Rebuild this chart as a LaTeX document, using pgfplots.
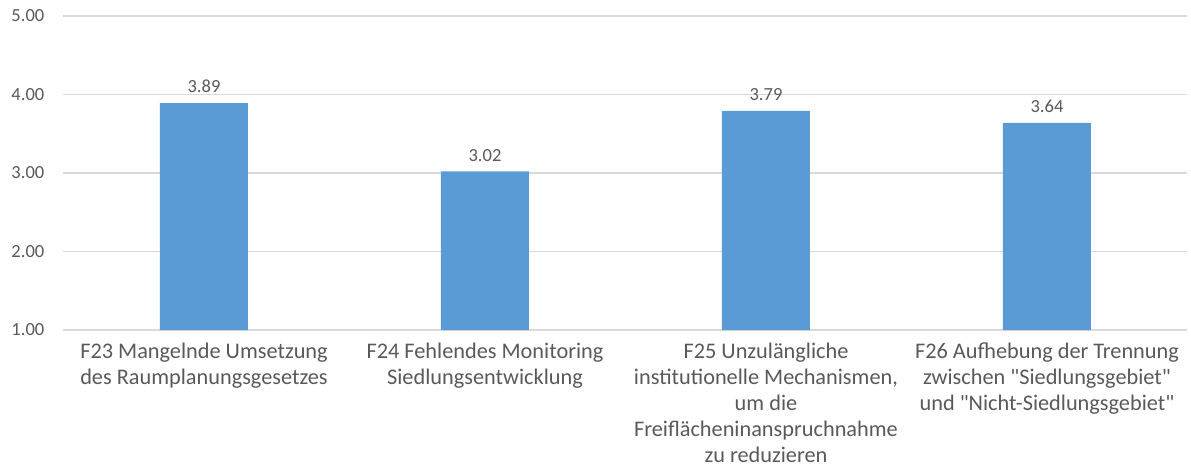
\documentclass[border=0pt]{standalone}
\usepackage{pgfplots}
\pgfplotsset{compat=1.18}
\usepackage{fontspec}
\setmainfont{Carlito}
\definecolor{barblue}{HTML}{5B9BD5}
\definecolor{txtgray}{HTML}{595959}
\definecolor{gridgray}{HTML}{D9D9D9}
\begin{document}
\begin{tikzpicture}
\begin{axis}[
  scale only axis,
  width=1124pt, height=314pt,
  ybar, bar width=88pt,
  xmin=-0.5, xmax=3.5,
  ymin=1, ymax=5,
  ytick={1,2,3,4,5},
  xtick={0,1,2,3},
  xticklabels={
    {F23 Mangelnde Umsetzung\\des Raumplanungsgesetzes},
    {F24 Fehlendes Monitoring\\Siedlungsentwicklung},
    {F25 Unzulängliche\\institutionelle Mechanismen,\\um die\\Freiflächeninanspruchnahme\\zu reduzieren},
    {F26 Aufhebung der Trennung\\zwischen \textquotedbl Siedlungsgebiet\textquotedbl\\und \textquotedbl Nicht-Siedlungsgebiet\textquotedbl}},
  xticklabel style={align=center, font=\fontsize{22.3}{26}\selectfont, text=txtgray, anchor=north, inner sep=0pt, yshift=-13pt},
  yticklabel style={font=\fontsize{18.5}{22}\selectfont, text=txtgray, anchor=east, inner sep=0pt, xshift=-19pt},
  /pgf/number format/assume math mode=true,
  yticklabel={\pgfmathprintnumber[fixed,fixed zerofill,precision=2]{\tick}},
  axis line style={draw=none},
  major tick length=0pt,
  tick style={draw=none},
  ymajorgrids,
  grid style={gridgray, line width=1.2pt},
  nodes near coords={\pgfmathprintnumber[fixed,fixed zerofill,precision=2,assume math mode=true]{\pgfplotspointmeta}},
  nodes near coords style={font=\fontsize{18.5}{22}\selectfont, text=txtgray, inner sep=0pt, yshift=10pt, anchor=south},
]
\addplot[fill=barblue, draw=none] coordinates {(0,3.89) (1,3.02) (2,3.79) (3,3.64)};
\coordinate (bl) at (rel axis cs:0,0);
\end{axis}
\pgfresetboundingbox
\path (bl) ++(-63.5pt,-141pt) rectangle ++(1191pt,471pt);
\end{tikzpicture}
\end{document}
